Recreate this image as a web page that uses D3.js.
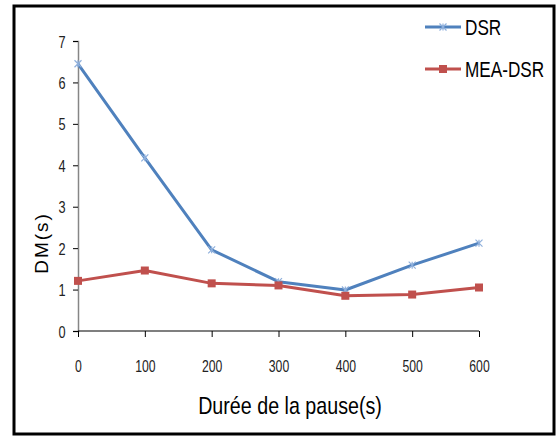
<!DOCTYPE html>
<html><head><meta charset="utf-8">
<script src="https://cdn.jsdelivr.net/npm/d3@7"></script>
<style>body{margin:0;background:#fff}svg{display:block}text{font-family:Arial,"Liberation Sans",sans-serif}</style>
</head><body>
<svg id="c" width="557" height="437"></svg>
<script>
const xValues = [0, 100, 200, 300, 400, 500, 600];
const xTickLabels = ["0", "100", "200", "300", "400", "500", "600"];
const yTicks = [0, 1, 2, 3, 4, 5, 6, 7];
const dsr = [6.45, 4.18, 1.96, 1.19, 0.99, 1.59, 2.12];
const meaDsr = [1.21, 1.46, 1.15, 1.10, 0.85, 0.88, 1.05];
const seriesNames = ["DSR", "MEA-DSR"];
const colors = ["#4F81BD", "#C0504D"];

const svg = d3.select("#c");
svg.append("rect").attr("x", 14).attr("y", 6).attr("width", 540).attr("height", 428)
  .attr("fill", "#fff").attr("stroke", "#000").attr("stroke-width", 3);

const x = d3.scaleLinear().domain([0, 600]).range([78, 479]);
const y = d3.scaleLinear().domain([0, 7]).range([331, 41]);

// y axis
const ya = svg.append("g").attr("transform", "translate(78,0)")
  .call(d3.axisLeft(y).tickValues(yTicks).tickSize(5).tickFormat(""));
ya.select(".domain").attr("stroke", "#868686").attr("stroke-width", 1.5);
ya.selectAll(".tick line").attr("stroke", "#000");
ya.selectAll(".tick").each(function(d) {
  d3.select(this).append("text").attr("transform", "translate(-16,6) scale(0.75,1)")
    .attr("text-anchor", "middle").attr("font-size", 17).attr("fill", "#222")
    .text(d3.format("d")(d));
});

// x axis
const xa = svg.append("g").attr("transform", "translate(0,331)")
  .call(d3.axisBottom(x).tickValues(xValues).tickSize(6).tickFormat(""));
xa.select(".domain").attr("stroke", "#000").attr("stroke-width", 1.2).attr("d", "M78,0H479");
xa.selectAll(".tick line").attr("stroke", "#000");
xa.selectAll(".tick").each(function(d, i) {
  d3.select(this).append("text").attr("transform", "translate(0,41) scale(0.72,1)")
    .attr("text-anchor", "middle").attr("font-size", 17).attr("fill", "#222")
    .text(xTickLabels[i]);
});

// axis titles
svg.append("text").attr("transform", "translate(290,414) scale(0.82,1)").attr("text-anchor", "middle")
  .attr("font-size", 24).attr("fill", "#000").text("Durée de la pause(s)");
svg.append("text").attr("transform", "translate(48,243) rotate(-90)").attr("text-anchor", "middle")
  .attr("font-size", 19).attr("fill", "#000").attr("letter-spacing", 2).text("DM(s)");

const line = d3.line().x((d, i) => x(xValues[i])).y(d => y(d));
const data = [dsr, meaDsr];

data.forEach((s, k) => {
  svg.append("path").datum(s).attr("d", line).attr("fill", "none")
    .attr("stroke", colors[k]).attr("stroke-width", 3).attr("stroke-linejoin", "round");
});

function star(g, cx, cy) {
  const r = 3.5;
  g.append("path").attr("d",
    `M${cx - r},${cy - r}L${cx + r},${cy + r}M${cx - r},${cy + r}L${cx + r},${cy - r}M${cx},${cy - r}L${cx},${cy + r}`)
    .attr("stroke", "#8FB0DC").attr("stroke-width", 1.2).attr("fill", "none");
}
function square(g, cx, cy) {
  g.append("rect").attr("x", cx - 4).attr("y", cy - 4).attr("width", 8).attr("height", 8)
    .attr("fill", colors[1]);
}
const mg = svg.append("g");
dsr.forEach((d, i) => star(mg, x(xValues[i]), y(d)));
meaDsr.forEach((d, i) => square(mg, x(xValues[i]), y(d)));

// legend
const legY = [27, 69];
seriesNames.forEach((n, k) => {
  svg.append("line").attr("x1", 425).attr("x2", 461).attr("y1", legY[k]).attr("y2", legY[k])
    .attr("stroke", colors[k]).attr("stroke-width", 3);
  if (k === 0) star(svg, 443, legY[k]); else square(svg, 443, legY[k]);
  svg.append("text").attr("transform", `translate(465,${legY[k] + 8}) scale(0.78,1)`)
    .attr("font-size", 22).attr("fill", "#000").text(n);
});
</script>
</body></html>
